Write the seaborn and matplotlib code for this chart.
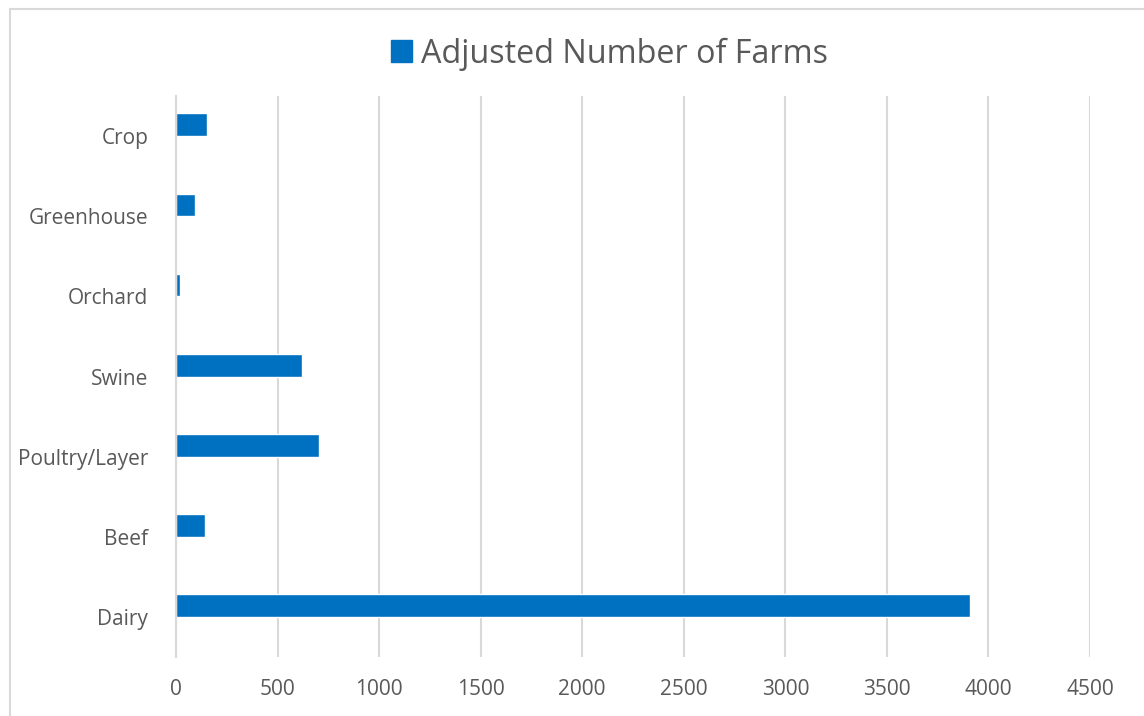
import pandas as pd
import matplotlib.pyplot as plt
import matplotlib.patches as mpatches
import seaborn as sns

# ── Data ──────────────────────────────────────────────────────
categories = ['Crop', 'Greenhouse', 'Orchard', 'Swine', 'Poultry/Layer', 'Beef', 'Dairy']
adjusted_farms = [153, 96, 20, 619, 703, 144, 3911]
series_name = 'Adjusted Number of Farms'
# Excel chart keeps an empty second series slot, so bars sit above the tick
empty_series = [float('nan')] * len(categories)

df = pd.DataFrame({
    'category': categories * 2,
    'value': adjusted_farms + empty_series,
    'series': [series_name] * len(categories) + ['(empty)'] * len(categories),
})

TEXT = '#595959'
GRID = '#d9d9d9'
BLUE = '#0070C0'

sns.set_theme(style='white')
plt.rcParams['font.family'] = ['Open Sans', 'DejaVu Sans']

fig = plt.figure(figsize=(11.44, 7.16), dpi=100)
ax = fig.add_axes([176 / 1144, 1 - 657 / 716, (1090 - 176) / 1144, (657 - 96) / 716])

sns.barplot(
    data=df, x='value', y='category', hue='series',
    hue_order=[series_name, '(empty)'],
    palette=[BLUE, BLUE], orient='h', width=0.566,
    saturation=1, legend=False, ax=ax, order=categories,
)

ax.set_xlim(0, 4500)
ax.set_xticks(range(0, 4501, 500))
ax.xaxis.grid(True, color=GRID, linewidth=1.5)
ax.set_axisbelow(True)
for side in ['top', 'right', 'bottom']:
    ax.spines[side].set_visible(False)
ax.spines['left'].set_color(GRID)
ax.spines['left'].set_linewidth(1.5)
ax.set_xlabel('')
ax.set_ylabel('')
ax.tick_params(axis='x', length=0, pad=16, labelsize=15, labelcolor=TEXT)
ax.tick_params(axis='y', length=0, pad=20, labelsize=15, labelcolor=TEXT)

# ── Legend at top, acting as the title ───────────────────────
handle = mpatches.Patch(color=BLUE, label=series_name)
fig.legend(
    handles=[handle], loc='center', bbox_to_anchor=(609.5 / 1144, 1 - 54 / 716),
    frameon=False, fontsize=23.3, labelcolor=TEXT,
    handlelength=0.65, handleheight=0.65, handletextpad=0.3,
)

# ── Chart border (only top and left edges fall inside the crop) ──
fig.patches.append(mpatches.Rectangle(
    (9.5 / 1144, -0.1), 1.2, 1 - 8.5 / 716 + 0.1,
    transform=fig.transFigure, fill=False, edgecolor=GRID, linewidth=1.5,
))

plt.savefig('out.png', dpi=100)
plt.close()
